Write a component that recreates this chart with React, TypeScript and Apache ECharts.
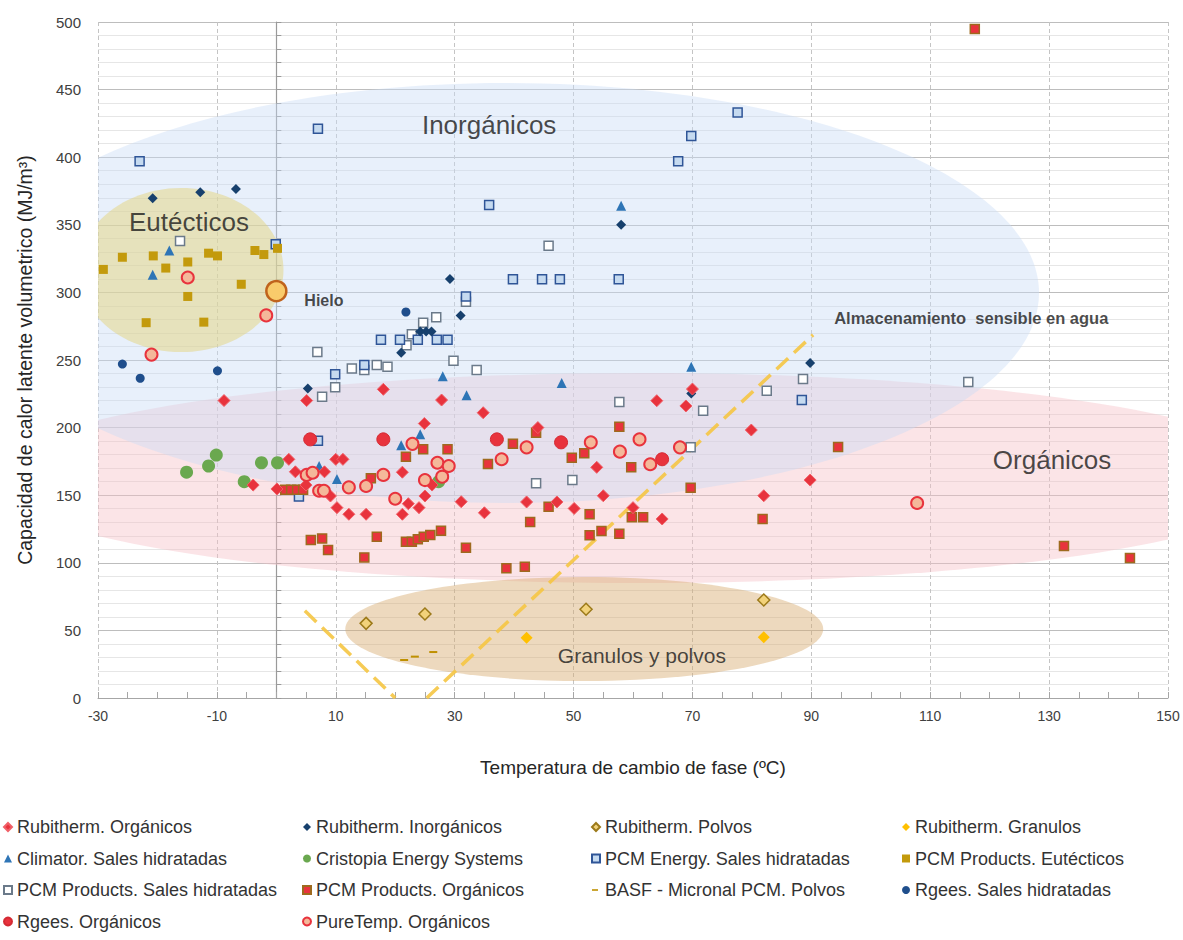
import React, { useEffect, useRef } from 'react';
import * as echarts from 'echarts';

type P = [number, number];

const rubithermOrganicos: P[] = [[-8.8,220],[-3.9,157.5],[0.1,154.6],[2.1,176.5],[3.2,167.3],[5.1,220],[5,157.5],[8.1,167.3],[9.1,149.4],[10,176.5],[11.2,176.5],[10.2,140.8],[12.2,135.9],[15.1,135.9],[18,228.3],[21.2,167],[22.2,143.7],[24,140.8],[21.2,135.9],[25,149.4],[26.2,157.5],[24.9,203],[27.8,220.4],[31.1,145.2],[34.8,211],[35,137],[44,200],[42.1,145],[47.2,145],[50.1,140.2],[53.9,170.6],[55,149.6],[60,140.8],[64.9,132.4],[64,219.9],[68.9,216],[70,228.5],[79.9,198.2],[82,149.6],[89.8,161.2]];
const rubithermInorganicos: P[] = [[-20.8,369.6],[-12.8,374],[-6.8,376.5],[5.3,229],[21,255.4],[24.2,271],[25.2,271],[26.1,271],[29.2,310],[31,283],[58,350],[69.8,225.3],[89.8,247.8]];
const rubithermPolvos: P[] = [[15.1,55.2],[25,62.1],[52.1,65.6],[82,72.5]];
const rubithermGranulos: P[] = [[42.1,44.6],[82,44.9]];
const climator: P[] = [[-18,331],[-20.8,313],[7.2,171.6],[10.2,162],[21,187],[24.2,195],[28,238],[32,224],[48,233],[58,364],[69.8,245]];
const cristopia: P[] = [[-15.1,167],[-11.4,171.6],[-10.1,179.7],[-5.4,160],[-2.5,174],[0.2,174],[27.3,160]];
const pcmEnergy: P[] = [[-23,397],[7,421],[-0.1,335.6],[17.6,265],[20.8,265],[23.8,265],[27,265],[28.8,265],[7,190.3],[3.8,149],[9.9,239.4],[14.8,246.3],[31.9,297],[35.8,364.6],[39.8,309.7],[44.7,309.7],[47.7,309.7],[57.6,309.7],[67.6,397],[69.8,415.7],[77.6,433],[88.4,220.4]];
const pcmEutecticos: P[] = [[-29.1,317],[-25.9,326],[-20.7,327],[-18.6,318],[-14.9,322.5],[-11.4,329],[-9.9,327],[-5.9,306],[-3.6,331],[-2.1,328],[0.2,332.6],[-14.9,297],[-21.9,277.6],[-12.2,278]];
const pcmSales: P[] = [[-16.2,338],[6.9,256],[7.7,222.9],[9.9,229.8],[12.7,243.8],[14.8,242.6],[16.9,246.3],[18.7,245],[21.9,261],[22.8,269],[24.7,277.6],[26.9,281.6],[29.8,249.5],[31.9,293],[33.7,242.6],[45.8,334.5],[43.7,158.8],[49.8,161.2],[57.7,219],[69.7,185.4],[71.8,212.5],[82.5,227.3],[88.6,236],[116.4,233.7]];
const pcmOrganicos: P[] = [[1.5,154],[2.5,154],[3.5,154],[4.5,154],[5.8,116.9],[7.7,118],[8.7,109.5],[14.8,104],[16.9,119.3],[15.9,162.5],[21.8,178.5],[24.7,184],[28.8,184],[21.8,115.6],[22.8,115.6],[23.8,117.4],[24.8,119.3],[25.9,120.6],[27.7,123.7],[31.9,111.2],[35.6,173],[39.8,188],[43.7,196.2],[49.7,177.7],[51.8,181],[57.7,200.7],[59.7,170.6],[69.7,155.5],[45.8,141.5],[42.7,130.2],[52.7,135.9],[59.8,133.6],[61.7,133.6],[52.7,120.3],[54.7,123.5],[57.7,121.5],[38.7,95.9],[41.8,97.1],[81.8,132.4],[94.5,185.7],[117.5,494.8],[132.5,112.4],[143.6,103.6]];
const basf: P[] = [[21.5,28.1],[23.3,30.6],[26.4,34]];
const rgeesSales: P[] = [[-25.9,247],[-22.9,236.5],[-9.9,242],[21.8,285.5]];
const rgeesOrganicos: P[] = [[5.7,191.3],[18,191.3],[37.1,191.3],[47.9,189.1],[64.9,176.6]];
const pureTemp: P[] = [[-14.9,311],[-1.7,283],[-21,254],[5.1,165],[6.1,166.6],[7.2,153.3],[8,153.3],[12.2,155.8],[15.1,156.8],[18,165],[20,147.4],[22.9,188],[25,161.2],[27.1,174],[27.9,163.7],[29,171.6],[37.9,176.6],[42.1,185.4],[52.9,189.1],[57.8,182.2],[61.1,191.3],[62.9,172.9],[67.9,185.4],[107.8,144.2]];
const hielo: P[] = [[0,301]];

// water sensible storage (dashed)
const waterLeft: P[] = [[4.8,64.5],[20,0]];
const waterRight: P[] = [[25.3,0],[90.3,268.6]];

// region ellipses: [cx, cy, rx, ry] in data units
const regionNames = ['Orgánicos', 'Inorgánicos', 'Eutécticos', 'Granulos y polvos'];
const regionShapes: number[][] = [[61.2,162.7,109.4,77.7],[38.6,299.6,89.7,155.3],[-16.0,316.6,17.2,60.7],[51.8,51.0,40.2,38.5]];
const regionColors = ['rgba(245,190,198,0.42)','rgba(200,220,245,0.42)','rgba(228,212,125,0.5)','rgba(215,170,110,0.45)'];

// annotation labels
const annoNames = ['Inorgánicos','Eutécticos','Orgánicos','Granulos y polvos','Hielo','Almacenamiento  sensible en agua'];
const annoPos: P[] = [[35.8,423.8],[-14.7,352],[130.5,176],[61.5,31.8],[8.0,294],[116.9,281]];
const annoSize = [26, 26, 26, 21, 16, 16.5];
const annoWeight = ['normal','normal','normal','normal','bold','bold'];

const legendCols: string[][] = [
  ['Rubitherm. Orgánicos','Climator. Sales hidratadas','PCM Products. Sales hidratadas','Rgees. Orgánicos'],
  ['Rubitherm. Inorgánicos','Cristopia Energy Systems','PCM Products. Orgánicos','PureTemp. Orgánicos'],
  ['Rubitherm. Polvos','PCM Energy. Sales hidratadas','BASF - Micronal PCM. Polvos'],
  ['Rubitherm. Granulos','PCM Products. Eutécticos','Rgees. Sales hidratadas'],
];
const legendLefts = [3, 302, 591, 902];

const FONT = 'Liberation Sans, Arial, sans-serif';
const DASH_ICON = 'path://M0,0M8,8M0,3.2L6,3.2L6,4.8L0,4.8Z';

function sc(name: string, data: P[], symbol: string, size: any, fill: string, border?: string, bw = 1, extra: any = {}) {
  return {
    name, type: 'scatter', data, symbol, symbolSize: size, z: 3,
    itemStyle: { color: fill, borderColor: border || fill, borderWidth: border ? bw : 0, opacity: 1 },
    emphasis: { disabled: true },
    ...extra,
  };
}

export default function App() {
  const ref = useRef<HTMLDivElement>(null);
  useEffect(() => {
    if (!ref.current) return;
    const chart = echarts.init(ref.current, null, { renderer: 'svg' });
    const option: any = {
      animation: false,
      backgroundColor: '#ffffff',
      grid: { left: 98, right: 15, top: 22, bottom: 242 },
      xAxis: {
        type: 'value', min: -30, max: 150, interval: 20,
        name: 'Temperatura de cambio de fase (ºC)', nameLocation: 'middle', nameGap: 60,
        nameTextStyle: { fontFamily: FONT, fontSize: 19, color: '#262626' },
        axisLine: { show: true, onZero: false, lineStyle: { color: '#a6a6a6', width: 1 } },
        axisTick: { show: true, inside: true, length: 6, lineStyle: { color: '#a6a6a6' } },
        minorTick: { show: true, splitNumber: 4, length: 6, lineStyle: { color: '#a6a6a6' } },
        axisLabel: { fontFamily: FONT, fontSize: 14, color: '#404040', margin: 11 },
        splitLine: { show: true, lineStyle: { color: '#c4c4c4', type: [4, 3], width: 1 } },
      },
      yAxis: [
        {
          type: 'value', min: 0, max: 500, interval: 50,
          name: 'Capacidad de calor latente volumetrico (MJ/m³)', nameLocation: 'middle', nameGap: 63, nameRotate: 90,
          nameTextStyle: { fontFamily: FONT, fontSize: 19.5, color: '#262626' },
          axisLine: { show: false, onZero: false },
          axisTick: { show: false },
          axisLabel: { fontFamily: FONT, fontSize: 15, color: '#404040', margin: 17 },
          splitLine: { show: true, lineStyle: { color: '#bdbdbd', width: 1 } },
          minorTick: { show: false, splitNumber: 5 },
          minorSplitLine: { show: true, lineStyle: { color: '#e6e6e6', width: 1 } },
        },
        {
          type: 'value', min: 0, max: 500, interval: 10, position: 'left',
          axisLine: { show: true, onZero: true, lineStyle: { color: '#9a9a9a', width: 1.2 } },
          axisTick: { show: true, inside: true, length: 5, lineStyle: { color: '#9a9a9a' } },
          axisLabel: { show: false },
          splitLine: { show: false },
        },
      ],
      legend: legendCols.map((col, i) => ({
        data: col.map((n) => (n.startsWith('BASF') ? { name: n, icon: DASH_ICON } : n)),
        orient: 'vertical', left: legendLefts[i], top: 817, padding: 0,
        itemWidth: 8, itemHeight: 8, itemGap: 11.5, itemTextGap: 7,
        selectedMode: false,
        textStyle: { fontFamily: FONT, fontSize: 18, color: '#333333', lineHeight: 20 },
      })),
      series: [
        {
          name: 'regions', type: 'custom', clip: true, silent: true, z: 1,
          data: regionShapes.map((s, i) => ({ name: regionNames[i], value: s })),
          renderItem: (params: any, api: any) => {
            const c = api.coord([api.value(0), api.value(1)]);
            const s = api.size([api.value(2), api.value(3)]);
            return {
              type: 'ellipse',
              shape: { cx: c[0], cy: c[1], rx: s[0], ry: s[1] },
              style: { fill: regionColors[params.dataIndex] },
            };
          },
        },
        {
          name: 'waterLeft', type: 'line', data: waterLeft, symbol: 'none', z: 2, silent: true,
          lineStyle: { color: '#f5c542', width: 3.5, type: [16, 8], opacity: 0.9 },
        },
        {
          name: 'waterRight', type: 'line', data: waterRight, symbol: 'none', z: 2, silent: true,
          lineStyle: { color: '#f5c542', width: 3.5, type: [16, 8], opacity: 0.9 },
        },
        sc('PCM Products. Sales hidratadas', pcmSales, 'rect', 9, '#ffffff', '#6b7a8a', 1.5),
        sc('PCM Energy. Sales hidratadas', pcmEnergy, 'rect', 9, '#c5daf0', '#2f5597', 1.5),
        sc('PCM Products. Eutécticos', pcmEutecticos, 'rect', 9, '#c39a0c'),
        sc('PCM Products. Orgánicos', pcmOrganicos, 'rect', 9, '#e8333d', '#9e6a1e', 1.5),
        sc('Climator. Sales hidratadas', climator, 'triangle', 10, '#2e75b6'),
        sc('Cristopia Energy Systems', cristopia, 'circle', 13, '#6aa84f'),
        sc('Rgees. Sales hidratadas', rgeesSales, 'circle', 9, '#1f4e8c'),
        sc('Rubitherm. Inorgánicos', rubithermInorganicos, 'diamond', 10, '#17406d'),
        sc('Rubitherm. Orgánicos', rubithermOrganicos, 'diamond', 12, '#e8333d', '#f06068', 1),
        sc('Rgees. Orgánicos', rgeesOrganicos, 'circle', 13, '#e8333d', '#d42a33', 1),
        sc('PureTemp. Orgánicos', pureTemp, 'circle', 12, '#f4b89a', '#e8333d', 2),
        sc('Rubitherm. Polvos', rubithermPolvos, 'diamond', 12, '#f2d27a', '#9c7a1a', 1.5),
        sc('Rubitherm. Granulos', rubithermGranulos, 'diamond', 12, '#ffc000'),
        sc('BASF - Micronal PCM. Polvos', basf, 'rect', [8, 2], '#bf9000', undefined, 0, { symbolKeepAspect: true }),
        sc('Hielo', hielo, 'circle', 20, '#f9cb6b', '#c0631c', 2.5),
        {
          name: 'annotations', type: 'scatter', symbolSize: 0, silent: true, z: 4,
          data: annoPos.map((p, i) => ({
            name: annoNames[i], value: p,
            label: { fontSize: annoSize[i], fontWeight: annoWeight[i] },
          })),
          label: {
            show: true, position: 'inside', formatter: (p: any) => p.name,
            fontFamily: FONT, color: '#1a1a1a',
          },
        },
      ],
    };
    chart.setOption(option);
    return () => chart.dispose();
  }, []);
  return <div ref={ref} style={{ position: 'fixed', left: 0, top: 0, width: 1183, height: 940 }} />;
}
